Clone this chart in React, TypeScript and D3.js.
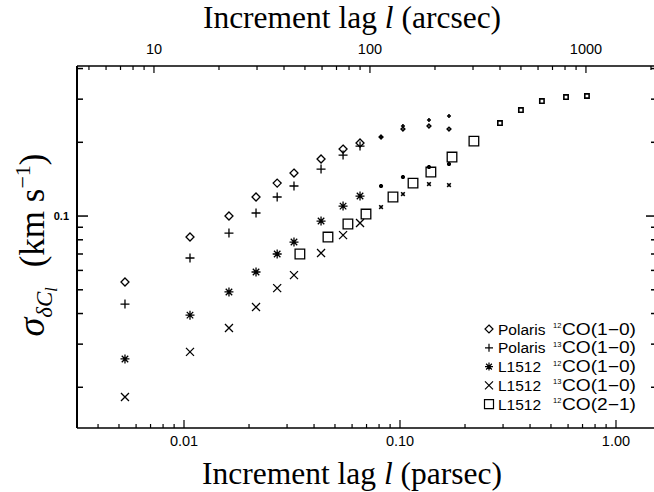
import * as d3 from 'd3'

// lags (parsec) shared by the four (1-0) series
const lagPc = [0.00533, 0.01066, 0.01615, 0.02155, 0.027, 0.0323, 0.0431, 0.0545, 0.0653, 0.0817, 0.1032, 0.1362, 0.1686]
const polaris12 = [0.0538, 0.0821, 0.1, 0.1196, 0.1363, 0.1498, 0.1709, 0.1877, 0.1986, 0.2101, 0.2265, 0.233, 0.2265]
const polaris13 = [0.0437, 0.0674, 0.0852, 0.1029, 0.1196, 0.1326, 0.1555, 0.1774, 0.1931, 0.2101, 0.233, 0.2465, 0.256]
const l1512co12 = [0.0261, 0.0394, 0.049, 0.0591, 0.07, 0.0783, 0.0954, 0.1098, 0.1207, 0.1326, 0.1443, 0.1585, 0.163]
const l1512co13 = [0.01825, 0.0279, 0.0349, 0.0425, 0.0508, 0.0574, 0.0706, 0.0836, 0.0936, 0.1088, 0.123, 0.1351, 0.1338]

// L1512 12CO(2-1) has its own lags
const lag21 = [0.0344, 0.0464, 0.0574, 0.0696, 0.0928, 0.1149, 0.139, 0.1741, 0.2199, 0.2903, 0.363, 0.454, 0.587, 0.7338]
const l1512co21 = [0.07, 0.0821, 0.0928, 0.1019, 0.1196, 0.1363, 0.1512, 0.1741, 0.2023, 0.2397, 0.2708, 0.2947, 0.3061, 0.309]

// points from this index on are drawn with a small symbol
const smallFrom = 9

const pcPerArcsec = 0.000726
const bottomLabels = [0.01, 0.1, 1]
const bottomText = ['0.01', '0.10', '1.00']
const topLabels = [10, 100, 1000]
const leftLabels = [0.1]

const legend = [
  { sym: 'diamond', name: 'Polaris', iso: '12', line: 'CO(1\u22120)' },
  { sym: 'plus', name: 'Polaris', iso: '13', line: 'CO(1\u22120)' },
  { sym: 'asterisk', name: 'L1512', iso: '12', line: 'CO(1\u22120)' },
  { sym: 'cross', name: 'L1512', iso: '13', line: 'CO(1\u22120)' },
  { sym: 'square', name: 'L1512', iso: '12', line: 'CO(2\u22121)' },
]

const symbolPath = (sym: string, s: number) => {
  switch (sym) {
    case 'diamond':
      return `M0,${-s}L${s},0L0,${s}L${-s},0Z`
    case 'plus':
      return `M${-s},0H${s}M0,${-s}V${s}`
    case 'cross':
      return `M${-s},${-s}L${s},${s}M${-s},${s}L${s},${-s}`
    case 'asterisk': {
      const d = s * 0.72
      return `M${-s},0H${s}M0,${-s}V${s}M${-d},${-d}L${d},${d}M${-d},${d}L${d},${-d}`
    }
    default:
      return `M${-s},${-s}H${s}V${s}H${-s}Z`
  }
}

const baseSize: Record<string, number> = { diamond: 4, plus: 4.5, asterisk: 4.5, cross: 4, square: 4.8 }

export default function App() {
  const W = 654
  const H = 492
  const left = 77, right = 655, top = 66, bottom = 428

  const x = d3.scaleLog().domain([0.003196, 1.5157]).range([left, right])
  const xTop = d3.scaleLog().domain([0.003196 / pcPerArcsec, 1.5157 / pcPerArcsec]).range([left, right])
  const y = d3.scaleLog().domain([0.01364, 0.4097]).range([bottom, top])

  const isMajor = (v: number) => Math.abs(Math.log10(v) - Math.round(Math.log10(v))) < 1e-6

  const series = [
    { sym: 'diamond', xs: lagPc, ys: polaris12 },
    { sym: 'plus', xs: lagPc, ys: polaris13 },
    { sym: 'asterisk', xs: lagPc, ys: l1512co12 },
    { sym: 'cross', xs: lagPc, ys: l1512co13 },
    { sym: 'square', xs: lag21, ys: l1512co21 },
  ]

  const sans = 'Liberation Sans, Arial, sans-serif'
  const serif = 'Liberation Serif, Times New Roman, serif'

  return (
    <svg width={W} height={H} style={{ position: 'absolute', left: 0, top: 0, background: '#fff' }}>
      <rect width={W} height={H} fill="#fff" />
      {/* frame */}
      <line x1={left} y1={top} x2={left} y2={bottom} stroke="#000" strokeWidth={2} />
      <line x1={left} y1={bottom} x2={right} y2={bottom} stroke="#000" strokeWidth={1.6} />
      <line x1={left} y1={top} x2={right} y2={top} stroke="#000" strokeWidth={1.6} />

      {/* bottom & top ticks */}
      {x.ticks().map((t, i) => {
        const len = isMajor(t) ? 8 : 4
        return <line key={'b' + i} x1={x(t)} x2={x(t)} y1={bottom} y2={bottom - len} stroke="#000" strokeWidth={1.2} />
      })}
      {xTop.ticks().map((t, i) => {
        const len = isMajor(t) ? 7 : 4
        return <line key={'t' + i} x1={xTop(t)} x2={xTop(t)} y1={top} y2={top + len} stroke="#000" strokeWidth={1.2} />
      })}
      {y.ticks().map((t, i) => {
        const len = isMajor(t) ? 11 : 6
        return (
          <g key={'y' + i}>
            <line x1={left} x2={left + len} y1={y(t)} y2={y(t)} stroke="#000" strokeWidth={1.5} />
            <line x1={right} x2={right - len + 2} y1={y(t)} y2={y(t)} stroke="#000" strokeWidth={1.5} />
          </g>
        )
      })}

      {/* tick labels */}
      {bottomLabels.map((t, i) => (
        <text key={'bl' + i} x={x(t)} y={bottom + 18} fontFamily={sans} fontSize={14.5} textAnchor="middle">
          {bottomText[i]}
        </text>
      ))}
      {topLabels.map((t, i) => (
        <text key={'tl' + i} x={xTop(t)} y={top - 12} fontFamily={sans} fontSize={14.5} textAnchor="middle">
          {t}
        </text>
      ))}
      {leftLabels.map((t, i) => (
        <text key={'ll' + i} x={left - 8} y={y(t) + 4} fontFamily={sans} fontSize={11} fontWeight="bold" textAnchor="end">
          {t}
        </text>
      ))}

      {/* axis titles */}
      <text x={352} y={484} fontFamily={serif} fontSize={31.5} textAnchor="middle">
        Increment lag <tspan fontStyle="italic">l</tspan> (parsec)
      </text>
      <text x={352} y={28} fontFamily={serif} fontSize={31.5} textAnchor="middle">
        Increment lag <tspan fontStyle="italic">l</tspan> (arcsec)
      </text>
      <text transform="translate(44,245) rotate(-90)" fontFamily={serif} fontSize={35} textAnchor="middle">
        <tspan fontStyle="italic" fontSize={38}>σ</tspan>
        <tspan fontSize={23} dy={8}>
          <tspan fontStyle="italic">δC</tspan>
          <tspan fontSize={16} fontStyle="italic" dy={5}>l</tspan>
        </tspan>
        <tspan dy={-13} dx={20}>(km s</tspan>
        <tspan fontSize={22} dy={-14}>−1</tspan>
        <tspan dy={14}>)</tspan>
      </text>

      {/* data */}
      {series.map((s) =>
        s.xs.map((lx, i) => {
          const small = i >= smallFrom
          const sz = baseSize[s.sym] * (small ? 0.45 : 1)
          return (
            <path
              key={s.sym + i}
              transform={`translate(${x(lx)},${y(s.ys[i])})`}
              d={symbolPath(s.sym, sz)}
              fill="none"
              stroke="#000"
              strokeWidth={small ? 1.6 : 1.3}
            />
          )
        })
      )}

      {/* legend */}
      {legend.map((d, i) => {
        const ly = 329 + i * 18.8
        return (
          <g key={'lg' + i}>
            <path
              transform={`translate(489,${ly})`}
              d={symbolPath(d.sym, d.sym === 'square' ? 4.5 : 4)}
              fill="none"
              stroke="#000"
              strokeWidth={1.2}
            />
            <text x={498} y={ly + 5.5} fontFamily={sans} fontSize={15.5}>
              {d.name}
            </text>
            <text x={553} y={ly - 1} fontFamily={sans} fontSize={7.5}>
              {d.iso}
            </text>
            <text x={562} y={ly + 5.5} fontFamily={sans} fontSize={16} textLength={74} lengthAdjust="spacingAndGlyphs">
              {d.line}
            </text>
          </g>
        )
      })}
    </svg>
  )
}
